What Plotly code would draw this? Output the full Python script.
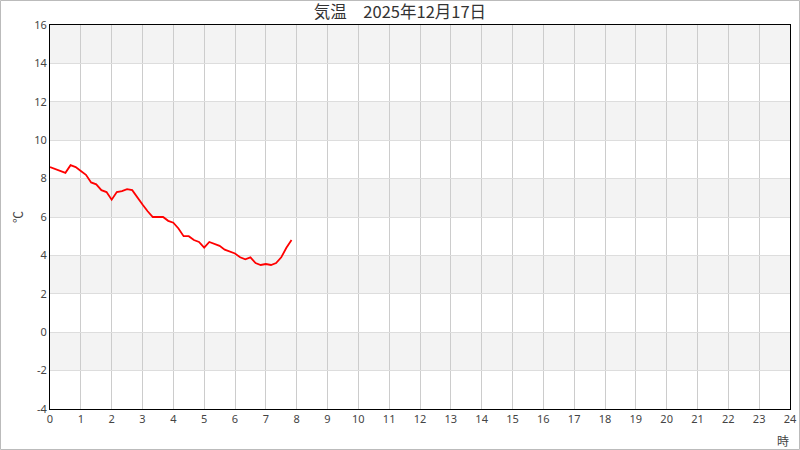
import plotly.graph_objects as go

times = ["0:00","0:10","0:20","0:30","0:40","0:50",
         "1:00","1:10","1:20","1:30","1:40","1:50",
         "2:00","2:10","2:20","2:30","2:40","2:50",
         "3:00","3:10","3:20","3:30","3:40","3:50",
         "4:00","4:10","4:20","4:30","4:40","4:50",
         "5:00","5:10","5:20","5:30","5:40","5:50",
         "6:00","6:10","6:20","6:30","6:40","6:50",
         "7:00","7:10","7:20","7:30","7:40","7:50"]
temps = [8.6, 8.5, 8.4, 8.3, 8.7, 8.6,
         8.4, 8.2, 7.8, 7.7, 7.4, 7.3,
         6.9, 7.3, 7.35, 7.45, 7.4, 7.0,
         6.65, 6.3, 6.0, 6.0, 6.0, 5.8,
         5.7, 5.4, 5.0, 5.0, 4.8, 4.7,
         4.4, 4.7, 4.6, 4.5, 4.3, 4.2,
         4.1, 3.9, 3.8, 3.9, 3.6, 3.5,
         3.55, 3.5, 3.6, 3.9, 4.4, 4.8]

title_text = "気温　2025年12月17日"
x_ticks = list(range(0, 25))
y_ticks = list(range(-4, 17, 2))
y_tick_labels = [str(v) for v in y_ticks]
bands = [(-2, 0), (2, 4), (6, 8), (10, 12), (14, 16)]

hours = [int(t.split(":")[0]) + int(t.split(":")[1]) / 60 for t in times]

fig = go.Figure()
fig.add_trace(go.Scatter(x=hours, y=temps, mode="lines",
                         line=dict(color="#ff0000", width=1.8),
                         hoverinfo="skip"))

font_fam = "Noto Sans, Noto Sans CJK JP, sans-serif"
shapes = []
for lo, hi in bands:
    shapes.append(dict(type="rect", xref="paper", yref="y", x0=0, x1=1, y0=lo, y1=hi,
                       fillcolor="#f3f3f3", line=dict(width=0), layer="below"))
# outer border of the whole image
W, H = 800, 450
l, r, t, b = 50, 10, 25, 41
pw, ph = W - l - r, H - t - b
shapes.append(dict(type="rect", xref="paper", yref="paper",
                   x0=(-l + 0.5) / pw, x1=1 + (r - 0.5) / pw,
                   y0=(-b + 0.5) / ph, y1=1 + (t - 0.5) / ph,
                   line=dict(color="#bbbbbb", width=1), fillcolor="rgba(0,0,0,0)"))

fig.update_layout(
    width=W, height=H,
    margin=dict(l=l, r=r, t=t, b=b, autoexpand=False),
    paper_bgcolor="white", plot_bgcolor="white",
    showlegend=False,
    font=dict(family=font_fam, size=11, color="#444444"),
    title=dict(text=title_text, x=0.5, xanchor="center", y=1 - 12.5 / H, yanchor="middle",
               font=dict(family="Noto Sans CJK JP, sans-serif", size=16.5, color="#333333")),
    shapes=shapes,
    xaxis=dict(range=[0, 24], tickmode="array", tickvals=x_ticks,
               showgrid=True, gridcolor="#cccccc", gridwidth=1,
               showline=True, linecolor="black", linewidth=1, mirror=True,
               zeroline=False, ticks="", fixedrange=True, automargin=False),
    yaxis=dict(range=[-4, 16], tickmode="array", tickvals=y_ticks, ticktext=y_tick_labels,
               showgrid=True, gridcolor="#dddddd", gridwidth=1,
               showline=True, linecolor="black", linewidth=1, mirror=True,
               zeroline=False, ticks="", fixedrange=True, automargin=False,
               title=dict(text="℃", standoff=8,
                          font=dict(family="Noto Sans CJK JP, sans-serif", size=12, color="#444444"))),
    annotations=[dict(text="時", xref="paper", yref="paper", x=1 - 7 / pw, y=0, yshift=-31,
                      xanchor="center", yanchor="middle", showarrow=False,
                      font=dict(family="Noto Sans CJK JP, sans-serif", size=12, color="#444444"))],
)

fig.write_html("out.html", config={"displayModeBar": False},
               post_script="document.body.style.margin='0';document.body.style.overflow='hidden';")
